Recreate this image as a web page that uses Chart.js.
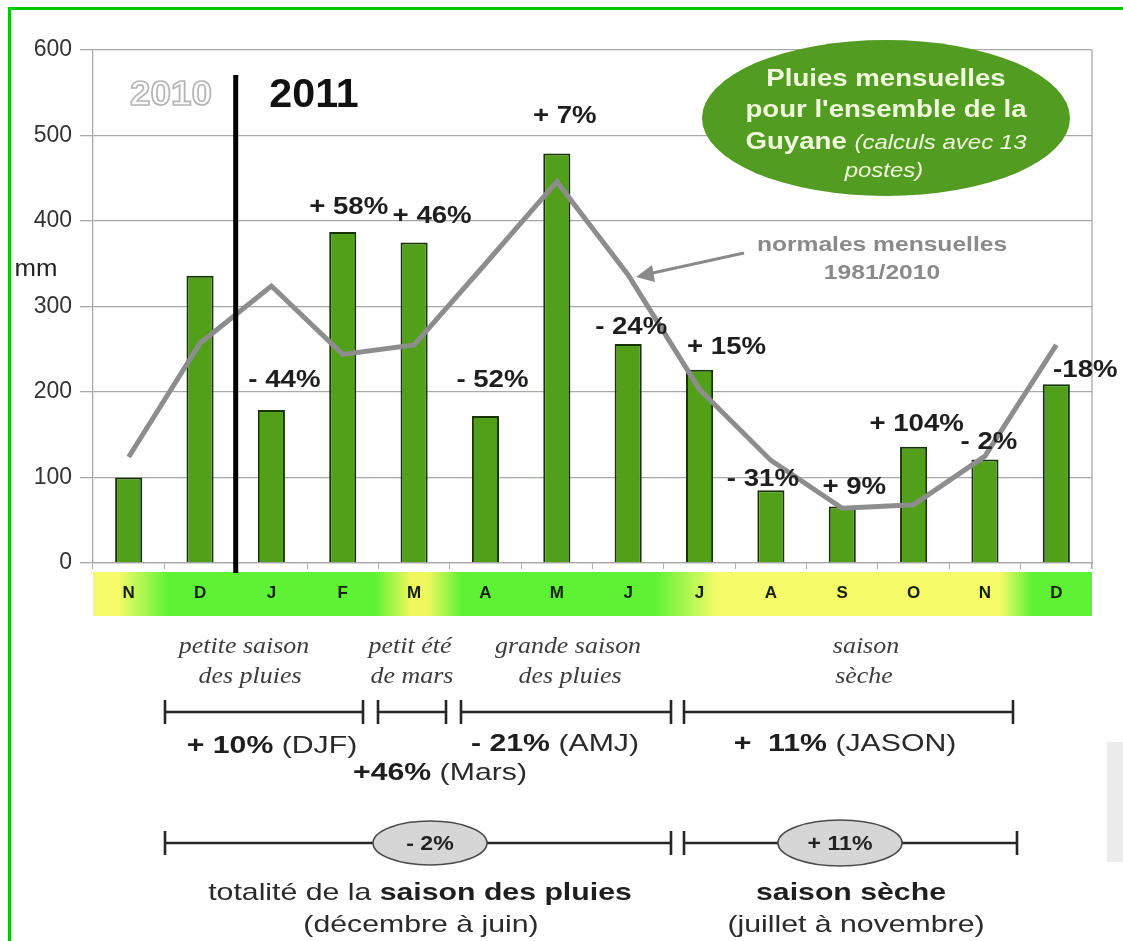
<!DOCTYPE html>
<html>
<head>
<meta charset="utf-8">
<script src="https://cdn.jsdelivr.net/npm/chart.js@4.4.1/dist/chart.umd.min.js"></script>
<style>
  html, body { margin: 0; padding: 0; background: #fff; }
  canvas { display: block; }
</style>
</head>
<body>
<canvas id="rain" width="1123" height="941"></canvas>
<script>
// Monthly rainfall for French Guiana, Nov 2010 – Dec 2011 (mm)
const months = ['N', 'D', 'J', 'F', 'M', 'A', 'M', 'J', 'J', 'A', 'S', 'O', 'N', 'D'];
const rainfall = [100, 336, 179, 387, 375, 172, 479, 256, 226, 85, 66, 136, 121, 209];
// 1981/2010 monthly normals (mm)
const normals = [124, 257, 324, 244, 255, 350, 446, 337, 203, 120, 64, 68, 125, 255];
// departure from the normal, printed above each bar
const anomalies = ['', '', '- 44%', '+ 58%', '+ 46%', '- 52%', '+ 7%', '- 24%', '+ 15%', '- 31%', '+ 9%', '+ 104%', '- 2%', '-18%'];
const yTicks = [0, 100, 200, 300, 400, 500, 600];

// where each anomaly label sits, relative to the top-centre of its bar
const anomalyOffsets = [[0, 0], [0, 0], [13, -30], [6, -25], [18, -26], [7, -36], [8, -37],
  [3, -17], [27, -22], [-8, -11], [12, -19], [3, -22], [4, -17], [29, -14]];

const SANS = 'Arial, "Liberation Sans", sans-serif';
const SERIF = '"Liberation Serif", "DejaVu Serif", serif';

function stretchText(ctx, str, x, y, sx, align) {
  ctx.save();
  ctx.translate(x, y);
  ctx.scale(sx, 1);
  ctx.textAlign = align || 'center';
  ctx.textBaseline = 'middle';
  ctx.fillText(str, 0, 0);
  ctx.restore();
}

// draws a line of text made of several differently styled runs, centred on cx
function drawRuns(ctx, parts, cx, y, sx) {
  let total = 0;
  parts.forEach(p => { ctx.font = p[1]; total += ctx.measureText(p[0]).width; });
  let x = cx - total * sx / 2;
  parts.forEach(p => {
    ctx.font = p[1];
    ctx.fillStyle = p[2];
    const w = ctx.measureText(p[0]).width;
    stretchText(ctx, p[0], x, y, sx, 'left');
    x += w * sx;
  });
}

function bracket(ctx, x1, x2, y) {
  ctx.save();
  ctx.strokeStyle = '#262626';
  ctx.lineWidth = 2.6;
  ctx.beginPath();
  ctx.moveTo(x1, y); ctx.lineTo(x2, y);
  ctx.moveTo(x1, y - 12); ctx.lineTo(x1, y + 12);
  ctx.moveTo(x2, y - 12); ctx.lineTo(x2, y + 12);
  ctx.stroke();
  ctx.restore();
}

function pill(ctx, cx, cy, rx, ry, label) {
  ctx.save();
  ctx.beginPath();
  ctx.ellipse(cx, cy, rx, ry, 0, 0, Math.PI * 2);
  ctx.fillStyle = '#d6d6d6';
  ctx.fill();
  ctx.strokeStyle = '#4a4a4a';
  ctx.lineWidth = 1.6;
  ctx.stroke();
  ctx.fillStyle = '#222';
  ctx.font = 'bold 21px ' + SANS;
  stretchText(ctx, label, cx, cy + 1, 1.1);
  ctx.restore();
}

// coloured band behind the month letters: green = rainy, yellow = drier
const monthBand = {
  id: 'monthBand',
  beforeDraw(chart) {
    const { ctx, chartArea } = chart;
    const x0 = chartArea.left, x1 = chartArea.right, w = x1 - x0;
    const top = 572, bottom = 616;
    const g = ctx.createLinearGradient(x0, 0, x1, 0);
    const stop = (px, c) => g.addColorStop(Math.min(1, Math.max(0, (px - x0) / w)), c);
    const Y = '#f6fb6a', G = '#5ef235';
    stop(x0, Y); stop(118, Y); stop(168, G);
    stop(375, G); stop(410, '#eef75c'); stop(428, '#eef75c'); stop(462, G);
    stop(655, G); stop(718, Y);
    stop(1000, Y); stop(1032, G); stop(x1, G);
    ctx.save();
    ctx.fillStyle = g;
    ctx.fillRect(x0, top, w, bottom - top);
    ctx.restore();
  }
};

const decorations = {
  id: 'decorations',
  afterDatasetsDraw(chart) {
    const { ctx, chartArea, scales } = chart;
    const x = scales.x;

    // right frame of the plot
    ctx.save();
    ctx.strokeStyle = '#a8a8a8';
    ctx.lineWidth = 1.3;
    ctx.beginPath();
    ctx.moveTo(chartArea.right, chartArea.top);
    ctx.lineTo(chartArea.right, chartArea.bottom + 6);
    ctx.stroke();

    // year separator between December and January
    const sep = (x.getPixelForValue(1) + x.getPixelForValue(2)) / 2;
    ctx.strokeStyle = '#000';
    ctx.lineWidth = 5;
    ctx.beginPath();
    ctx.moveTo(sep, 75);
    ctx.lineTo(sep, 573);
    ctx.stroke();

    // anomaly labels
    const meta = chart.getDatasetMeta(0);
    ctx.fillStyle = '#1e1e1e';
    ctx.font = 'bold 24px ' + SANS;
    meta.data.forEach((bar, i) => {
      if (!anomalies[i]) return;
      const o = anomalyOffsets[i];
      stretchText(ctx, anomalies[i], bar.x + o[0], bar.y + o[1], 1.15);
    });
    ctx.restore();
  },
  afterDraw(chart) {
    const { ctx } = chart;
    ctx.save();

    // years
    ctx.font = 'bold 35px ' + SANS;
    ctx.textAlign = 'center';
    ctx.textBaseline = 'middle';
    ctx.lineWidth = 1.6;
    ctx.strokeStyle = '#b4b4b4';
    ctx.fillStyle = '#fdfdfd';
    ctx.save();
    ctx.translate(171, 95); ctx.scale(1.05, 1);
    ctx.fillText('2010', 0, 0);
    ctx.strokeText('2010', 0, 0);
    ctx.restore();
    ctx.fillStyle = '#111';
    ctx.font = 'bold 40px ' + SANS;
    stretchText(ctx, '2011', 314, 96, 1.03);

    // unit
    ctx.fillStyle = '#222';
    ctx.font = '23px ' + SANS;
    stretchText(ctx, 'mm', 36, 270, 1.12);

    // title bubble
    ctx.beginPath();
    ctx.ellipse(886, 118, 184, 78, 0, 0, Math.PI * 2);
    ctx.fillStyle = '#529c22';
    ctx.fill();
    const light = '#f1f9dc';
    ctx.fillStyle = light;
    ctx.font = 'bold 23px ' + SANS;
    stretchText(ctx, 'Pluies mensuelles', 886, 80, 1.2);
    stretchText(ctx, "pour l'ensemble de la", 886, 111, 1.2);
    drawRuns(ctx, [['Guyane ', 'bold 23px ' + SANS, light], ['(calculs avec 13', 'italic 20px ' + SANS, light]], 886, 143, 1.2);
    ctx.font = 'italic 20px ' + SANS;
    ctx.fillStyle = light;
    stretchText(ctx, 'postes)', 884, 171, 1.2);

    // normals caption with its arrow
    ctx.fillStyle = '#8a8a8a';
    ctx.font = 'bold 20px ' + SANS;
    stretchText(ctx, 'normales mensuelles', 882, 245, 1.23);
    stretchText(ctx, '1981/2010', 882, 273, 1.23);
    ctx.strokeStyle = '#8a8a8a';
    ctx.lineWidth = 3;
    ctx.beginPath();
    ctx.moveTo(744, 253);
    ctx.lineTo(648, 274);
    ctx.stroke();
    ctx.beginPath();
    ctx.moveTo(636, 277);
    ctx.lineTo(652, 265);
    ctx.lineTo(655, 282);
    ctx.closePath();
    ctx.fillStyle = '#8a8a8a';
    ctx.fill();

    // season names under the month band
    ctx.fillStyle = '#3c3c3c';
    ctx.font = 'italic 24px ' + SERIF;
    [['petite saison', 244, 647], ['des pluies', 250, 677],
     ['petit été', 410, 647], ['de mars', 412, 677],
     ['grande saison', 568, 647], ['des pluies', 570, 677],
     ['saison', 866, 647], ['sèche', 864, 677]].forEach(t => stretchText(ctx, t[0], t[1], t[2], 1.08));

    // season spans
    bracket(ctx, 165, 363, 712);
    bracket(ctx, 378, 446, 712);
    bracket(ctx, 461, 671, 712);
    bracket(ctx, 684, 1013, 712);

    const B = 'bold 24px ' + SANS, N = '24px ' + SANS;
    const SX = 1.26;
    drawRuns(ctx, [['+ 10%', B, '#1e1e1e'], [' (DJF)', N, '#2a2a2a']], 272, 746, SX);
    drawRuns(ctx, [['- 21%', B, '#1e1e1e'], [' (AMJ)', N, '#2a2a2a']], 555, 744, SX);
    drawRuns(ctx, [['+  11%', B, '#1e1e1e'], [' (JASON)', N, '#2a2a2a']], 845, 744, SX);
    drawRuns(ctx, [['+46%', B, '#1e1e1e'], [' (Mars)', N, '#2a2a2a']], 440, 773, SX);

    // whole rainy season / dry season
    bracket(ctx, 165, 671, 843);
    bracket(ctx, 684, 1017, 843);
    pill(ctx, 430, 843, 57, 22, '- 2%');
    pill(ctx, 840, 843, 62, 23, '+ 11%');

    drawRuns(ctx, [['totalité de la ', N, '#2a2a2a'], ['saison des pluies', B, '#1e1e1e']], 420, 893, SX);
    drawRuns(ctx, [['(décembre à juin)', N, '#2a2a2a']], 421, 925, SX);
    drawRuns(ctx, [['saison sèche', B, '#1e1e1e']], 851, 893, SX);
    drawRuns(ctx, [['(juillet à novembre)', N, '#2a2a2a']], 856, 925, SX);

    // pale side tab
    ctx.fillStyle = '#ececec';
    ctx.fillRect(1107, 742, 16, 120);

    // outer green frame
    ctx.fillStyle = '#00c800';
    ctx.fillRect(8, 7, 1123 - 8, 3);
    ctx.fillRect(8, 7, 3, 941 - 7);

    ctx.restore();
  }
};

new Chart(document.getElementById('rain'), {
  type: 'bar',
  data: {
    labels: months,
    datasets: [
      {
        type: 'bar',
        label: 'Pluies 2011',
        data: rainfall,
        backgroundColor: '#52a019',
        borderColor: '#173308',
        borderWidth: 2,
        categoryPercentage: 1,
        barPercentage: 0.38,
        order: 1
      },
      {
        type: 'line',
        label: 'normales mensuelles 1981/2010',
        data: normals,
        borderColor: '#8d8d8d',
        borderWidth: 5,
        pointRadius: 0,
        tension: 0,
        fill: false,
        order: 0
      }
    ]
  },
  options: {
    responsive: false,
    animation: false,
    events: [],
    layout: { padding: { left: 0, right: 31, top: 50, bottom: 0 } },
    plugins: {
      legend: { display: false },
      tooltip: { enabled: false },
      title: { display: false }
    },
    scales: {
      x: {
        offset: true,
        grid: {
          display: true,
          drawOnChartArea: false,
          drawTicks: true,
          tickLength: 6,
          color: '#b0b0b0',
          offset: true
        },
        border: { display: true, color: '#a8a8a8', width: 1.3 },
        ticks: {
          font: { family: SANS, size: 17, weight: 'bold' },
          color: '#142008',
          padding: 14,
          maxRotation: 0,
          autoSkip: false
        },
        afterFit(scale) { scale.height = 941 - 563; }
      },
      y: {
        min: 0,
        max: 600,
        afterBuildTicks(scale) { scale.ticks = yTicks.map(v => ({ value: v })); },
        grid: {
          color: '#a8a8a8',
          lineWidth: 1.3,
          tickLength: 13
        },
        border: { display: true, color: '#a8a8a8', width: 1.3 },
        ticks: {
          font: { family: SANS, size: 23 },
          color: '#333',
          padding: 8
        },
        afterFit(scale) { scale.width = 93; }
      }
    }
  },
  plugins: [monthBand, decorations]
});
</script>
</body>
</html>
